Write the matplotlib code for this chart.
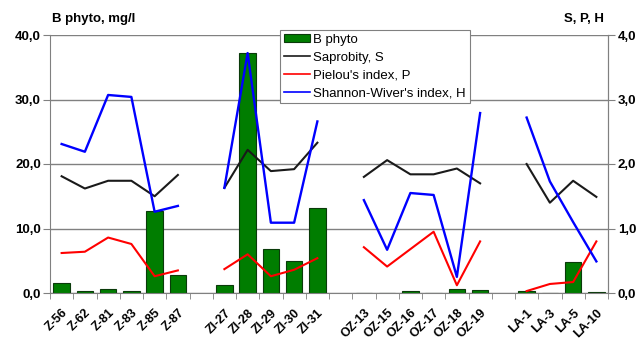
import numpy as np
import matplotlib
matplotlib.use("Agg")
import matplotlib.pyplot as plt
from matplotlib.patches import Patch
from matplotlib.lines import Line2D

plt.rcParams['font.family'] = ['Liberation Sans', 'DejaVu Sans']

nan = np.nan
stations = ['Z-56', 'Z-62', 'Z-81', 'Z-83', 'Z-85', 'Z-87', '',
            'Zl-27', 'Zl-28', 'Zl-29', 'Zl-30', 'Zl-31', '',
            'OZ-13', 'OZ-15', 'OZ-16', 'OZ-17', 'OZ-18', 'OZ-19', '',
            'LA-1', 'LA-3', 'LA-5', 'LA-10']

b_phyto = [1.6, 0.35, 0.65, 0.3, 12.7, 2.8, nan,
           1.25, 37.2, 6.8, 4.9, 13.2, nan,
           0.05, 0.05, 0.3, 0.0, 0.65, 0.45, nan,
           0.3, 0.05, 4.8, 0.2]

saprobity = [1.81, 1.62, 1.74, 1.74, 1.50, 1.83, nan,
             1.63, 2.22, 1.89, 1.92, 2.33, nan,
             1.80, 2.06, 1.84, 1.84, 1.93, 1.70, nan,
             2.00, 1.40, 1.74, 1.49]

pielou = [0.62, 0.64, 0.86, 0.76, 0.26, 0.35, nan,
          0.37, 0.60, 0.26, 0.36, 0.54, nan,
          0.71, 0.41, 0.68, 0.95, 0.12, 0.80, nan,
          0.03, 0.14, 0.17, 0.80]

shannon = [2.31, 2.19, 3.07, 3.04, 1.26, 1.35, nan,
           1.63, 3.72, 1.09, 1.09, 2.66, nan,
           1.44, 0.67, 1.55, 1.52, 0.25, 2.79, nan,
           2.72, 1.73, 1.10, 0.49]

grid_c = '#808080'
fs = 9.5
fig = plt.figure(figsize=(6.4, 3.45), dpi=100)
ax = fig.add_axes([50 / 640, 1 - 293 / 345, 558 / 640, 258 / 345])
x = np.arange(len(stations))

ax.set_xlim(-0.5, len(stations) - 0.5)
ax.set_ylim(0, 40)
ax.set_yticks([0, 10, 20, 30, 40])
ax.set_yticklabels([f'{v:.1f}'.replace('.', ',') for v in [0, 10, 20, 30, 40]],
                   fontsize=fs, fontweight='bold')
ax.yaxis.grid(True, color=grid_c, lw=1)
ax.set_axisbelow(True)

ax.bar(x, b_phyto, width=0.7, color='#007d00', edgecolor='#0a3a0a', lw=0.8, zorder=2)

ax.set_xticks(x)
ax.set_xticklabels(stations, rotation=45, ha='right', rotation_mode='anchor',
                   fontsize=9, fontweight='bold')
ax.tick_params(axis='x', length=0, pad=10)
ax.set_xticks(np.arange(-0.5, len(stations)), minor=True)
ax.tick_params(axis='x', which='minor', length=4, color=grid_c, direction='out')
ax.tick_params(axis='y', length=5, color=grid_c, pad=1.5)

ax.spines['top'].set_visible(False)
for s in ['left', 'right', 'bottom']:
    ax.spines[s].set_color(grid_c)

ax2 = ax.twinx()
ax2.set_ylim(0, 4)
ax2.set_yticks([0, 1, 2, 3, 4])
ax2.set_yticklabels([f'{v:.1f}'.replace('.', ',') for v in [0, 1, 2, 3, 4]],
                    fontsize=fs, fontweight='bold')
ax2.tick_params(axis='y', length=5, color=grid_c, pad=2)
for s in ['top', 'left', 'bottom']:
    ax2.spines[s].set_visible(False)
ax2.spines['right'].set_color(grid_c)

ax2.plot(x, saprobity, color='#1a1a1a', lw=1.5, zorder=3)
ax2.plot(x, pielou, color='#ff0000', lw=1.5, zorder=3)
ax2.plot(x, shannon, color='#0000ff', lw=1.7, zorder=3)

fig.text(52 / 640, 1 - 19 / 345, 'B phyto, mg/l', fontsize=fs, fontweight='bold',
         ha='left', va='center')
fig.text(604 / 640, 1 - 19 / 345, 'S, P, H', fontsize=fs, fontweight='bold',
         ha='right', va='center')

handles = [Patch(facecolor='#007d00', edgecolor='#0a3a0a', lw=0.8),
           Line2D([], [], color='#1a1a1a', lw=1.2),
           Line2D([], [], color='#ff0000', lw=1.2),
           Line2D([], [], color='#0000ff', lw=1.2)]
labels = ['B phyto', 'Saprobity, S', "Pielou's index, P", "Shannon-Wiver's index, H"]
leg = ax2.legend(handles, labels, loc='upper left',
                 bbox_to_anchor=(280 / 640, 1 - 30 / 345), bbox_transform=fig.transFigure,
                 borderaxespad=0, fontsize=9.5, frameon=True, fancybox=False,
                 edgecolor=grid_c, framealpha=1, handlelength=2.0, handleheight=0.55,
                 handletextpad=0.25, labelspacing=0.45, borderpad=0.28)
leg.get_frame().set_linewidth(0.8)
leg.set_zorder(5)

fig.savefig('out.png', dpi=100)
